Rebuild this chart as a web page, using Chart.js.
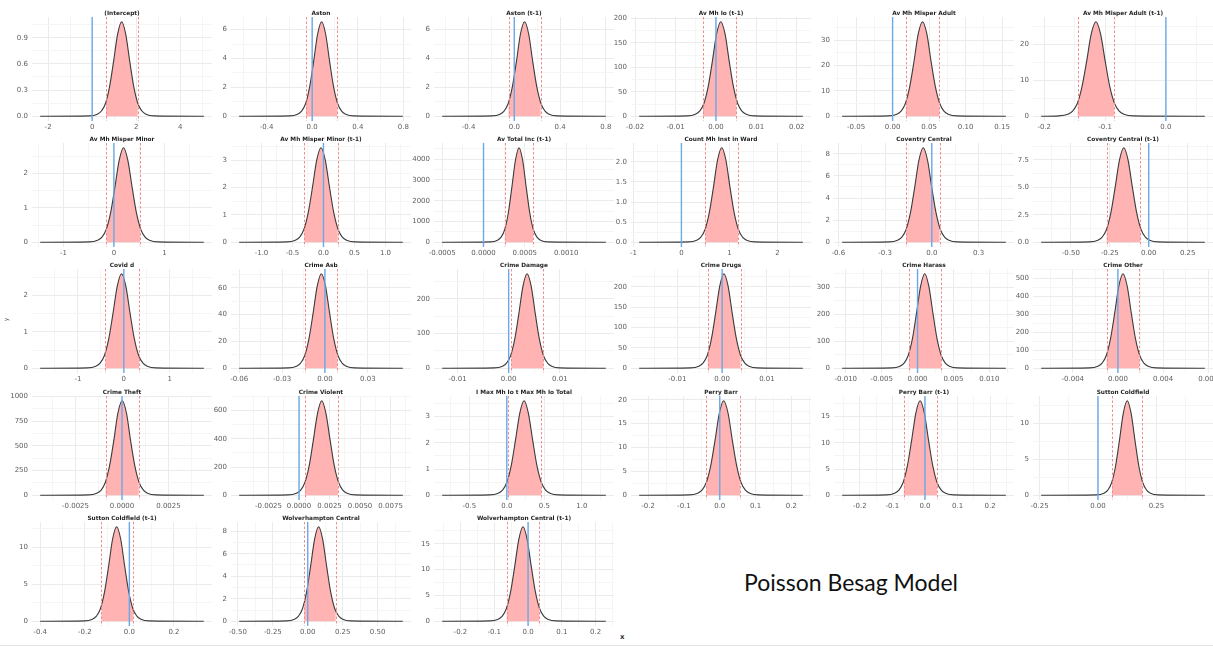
<!DOCTYPE html>
<html><head><meta charset="utf-8">
<script src="https://cdn.jsdelivr.net/npm/chart.js@4.4.1/dist/chart.umd.min.js"></script>
<style>
html,body{margin:0;padding:0;background:#fff;width:1213px;height:646px;overflow:hidden;position:relative;}
canvas{position:absolute;}
.txt{position:absolute;white-space:nowrap;}
</style></head><body>
<div class="txt" id="note" style="left:851px;top:571px;transform:translateX(-50%);font-family:Lato;font-size:23px;line-height:23px;color:#111;">Poisson Besag Model</div>
<div class="txt" style="left:620px;top:633px;font-family:'DejaVu Sans';font-weight:bold;font-size:7px;line-height:8px;color:#333;">x</div>
<div class="txt" style="left:4px;top:316px;font-family:'DejaVu Sans';font-size:6px;line-height:7px;color:#555;transform:rotate(-90deg);">y</div>
<div style="position:absolute;left:0;top:645px;width:1213px;height:1px;background:#e4e4e4;"></div>
<script>
// ---------------- data ----------------
const panelTitles = [
 '(Intercept)','Aston','Aston (t-1)','Av Mh Io (t-1)','Av Mh Misper Adult','Av Mh Misper Adult (t-1)',
 'Av Mh Misper Minor','Av Mh Misper Minor (t-1)','Av Total Inc (t-1)','Count Mh Inst in Ward','Coventry Central','Coventry Central (t-1)',
 'Covid d','Crime Asb','Crime Damage','Crime Drugs','Crime Harass','Crime Other',
 'Crime Theft','Crime Violent','I Max Mh Io t Max Mh Io Total','Perry Barr','Perry Barr (t-1)','Sutton Coldfield',
 'Sutton Coldfield (t-1)','Wolverhampton Central','Wolverhampton Central (t-1)'
];
const xTickLabels = [
 ['-2','0','2','4'],
 ['-0.4','0.0','0.4','0.8'],
 ['-0.4','0.0','0.4','0.8'],
 ['-0.02','-0.01','0.00','0.01','0.02'],
 ['-0.05','0.00','0.05','0.10','0.15'],
 ['-0.2','-0.1','0.0'],
 ['-1','0','1'],
 ['-1.0','-0.5','0.0','0.5','1.0'],
 ['-0.0005','0.0000','0.0005','0.0010'],
 ['-1','0','1','2'],
 ['-0.6','-0.3','0.0','0.3'],
 ['-0.50','-0.25','0.00','0.25'],
 ['-1','0','1'],
 ['-0.06','-0.03','0.00','0.03'],
 ['-0.01','0.00','0.01'],
 ['-0.01','0.00','0.01'],
 ['-0.010','-0.005','0.000','0.005','0.010'],
 ['-0.004','0.000','0.004','0.008'],
 ['-0.0025','0.0000','0.0025'],
 ['-0.0025','0.0000','0.0025','0.0050','0.0075'],
 ['-0.5','0.0','0.5','1.0'],
 ['-0.2','-0.1','0.0','0.1','0.2'],
 ['-0.2','-0.1','0.0','0.1','0.2'],
 ['-0.25','0.00','0.25'],
 ['-0.4','-0.2','0.0','0.2'],
 ['-0.50','-0.25','0.00','0.25','0.50'],
 ['-0.2','-0.1','0.0','0.1','0.2']
];
const yTickLabels = [
 ['0.0','0.3','0.6','0.9'],
 ['0','2','4','6'],
 ['0','2','4','6'],
 ['0','50','100','150','200'],
 ['0','10','20','30'],
 ['0','10','20'],
 ['0','1','2'],
 ['0','1','2','3'],
 ['0','1000','2000','3000','4000'],
 ['0.0','0.5','1.0','1.5','2.0'],
 ['0','2','4','6','8'],
 ['0.0','2.5','5.0','7.5'],
 ['0','1','2'],
 ['0','20','40','60'],
 ['0','100','200'],
 ['0','50','100','150','200'],
 ['0','100','200','300'],
 ['0','100','200','300','400','500'],
 ['0','250','500','750','1000'],
 ['0','200','400','600'],
 ['0','1','2','3'],
 ['0','5','10','15','20'],
 ['0','5','10','15'],
 ['0','5','10'],
 ['0','5','10'],
 ['0','2','4','6','8'],
 ['0','5','10','15']
];
const ciLower = [0.63,-0.055,-0.05,-0.0032,0.018,-0.145,-0.15,-0.31,0.00026,0.5,-0.165,-0.27,-0.40,-0.014,0.0005,-0.0032,-0.0012,-0.001,-0.00088,0.0005,0.01,-0.038,-0.065,0.06,-0.125,-0.025,-0.063];
const ciUpper = [2.07,0.22,0.23,0.005,0.064,-0.085,0.52,0.23,0.0006,1.18,0.05,-0.053,0.33,0.0087,0.0068,0.0041,0.0033,0.0019,0.0009,0.0032,0.46,0.057,0.037,0.19,0.017,0.2,0.033];
const referenceValue = 0;
const densityX = [
 [-2.36,-0.129,0.238,0.422,0.605,0.789,0.973,1.156,1.34,1.524,1.707,1.891,2.075,2.258,2.442,2.809,5.07],
 [-0.64,-0.198,-0.128,-0.093,-0.057,-0.022,0.013,0.048,0.083,0.118,0.153,0.188,0.223,0.258,0.294,0.364,0.795],
 [-0.63,-0.196,-0.124,-0.089,-0.053,-0.017,0.019,0.054,0.09,0.126,0.161,0.197,0.233,0.269,0.304,0.376,0.8],
 [-0.019,-0.00717,-0.00508,-0.00403,-0.00298,-0.00194,-0.00089,0.00015,0.0012,0.00225,0.00329,0.00434,0.00538,0.00643,0.00748,0.00957,0.0215],
 [-0.069,-0.0059,0.0058,0.0117,0.0175,0.0234,0.0293,0.0351,0.041,0.0469,0.0527,0.0586,0.0645,0.0703,0.0762,0.0879,0.155],
 [-0.205,-0.1762,-0.1609,-0.1533,-0.1456,-0.138,-0.1303,-0.1227,-0.115,-0.1074,-0.0997,-0.0921,-0.0844,-0.0768,-0.0691,-0.0538,0.064],
 [-1.46,-0.494,-0.323,-0.237,-0.152,-0.066,0.019,0.105,0.19,0.275,0.361,0.446,0.532,0.617,0.703,0.874,1.78],
 [-1.36,-0.591,-0.453,-0.384,-0.316,-0.247,-0.178,-0.109,-0.04,0.029,0.098,0.167,0.236,0.304,0.373,0.511,1.28],
 [-0.0005,0.000083,0.00017,0.000213,0.000257,0.0003,0.000343,0.000387,0.00043,0.000473,0.000517,0.00056,0.000603,0.000647,0.00069,0.000777,0.00148],
 [-0.88,0.146,0.32,0.406,0.493,0.58,0.667,0.753,0.84,0.927,1.013,1.1,1.187,1.274,1.36,1.534,2.53],
 [-0.575,-0.274,-0.2195,-0.192,-0.1647,-0.1373,-0.1098,-0.0824,-0.055,-0.0276,-0.0002,0.0273,0.0547,0.082,0.1095,0.164,0.475],
 [-0.69,-0.3814,-0.3261,-0.2984,-0.2707,-0.243,-0.2154,-0.1877,-0.16,-0.1323,-0.1046,-0.077,-0.0493,-0.0216,0.0061,0.0614,0.36],
 [-1.82,-0.795,-0.609,-0.516,-0.422,-0.329,-0.236,-0.143,-0.05,0.043,0.136,0.229,0.322,0.416,0.509,0.695,1.74],
 [-0.06,-0.0257,-0.0199,-0.017,-0.0141,-0.0112,-0.0083,-0.0054,-0.0025,0.0004,0.0033,0.0062,0.0091,0.012,0.0149,0.0207,0.0545],
 [-0.013,-0.0028,-0.0012,-0.0004,0.0004,0.0012,0.002,0.0028,0.0036,0.0044,0.0052,0.006,0.0068,0.0076,0.0084,0.01,0.019],
 [-0.0185,-0.00705,-0.00519,-0.00426,-0.00332,-0.00239,-0.00146,-0.00053,0.0004,0.00133,0.00226,0.00319,0.00412,0.00506,0.00599,0.00785,0.018],
 [-0.0105,-0.00359,-0.00244,-0.00187,-0.0013,-0.00072,-0.00015,0.00043,0.001,0.00157,0.00215,0.00272,0.0033,0.00387,0.00444,0.00559,0.0123],
 [-0.0068,-0.00251,-0.00177,-0.0014,-0.00103,-0.00066,-0.00029,0.00008,0.00045,0.00082,0.00119,0.00156,0.00193,0.0023,0.00267,0.00341,0.0077],
 [-0.0044,-0.0018,-0.00135,-0.00112,-0.0009,-0.00067,-0.00044,-0.00022,0.00001,0.00024,0.00046,0.00069,0.00092,0.00115,0.00137,0.00183,0.0044],
 [-0.0049,-0.0009,-0.00021,0.00014,0.00048,0.00083,0.00117,0.00152,0.00186,0.0022,0.00255,0.00289,0.00324,0.00358,0.00393,0.00462,0.0085],
 [-0.861,-0.229,-0.114,-0.057,0.0004,0.058,0.115,0.173,0.23,0.287,0.345,0.402,0.46,0.517,0.574,0.689,1.319],
 [-0.225,-0.0859,-0.0617,-0.0496,-0.0375,-0.0253,-0.0132,-0.0011,0.011,0.0231,0.0352,0.0473,0.0595,0.0716,0.0837,0.1079,0.232],
 [-0.254,-0.1191,-0.0931,-0.08,-0.067,-0.054,-0.041,-0.028,-0.015,-0.002,0.011,0.024,0.037,0.05,0.0631,0.0891,0.248],
 [-0.243,-0.0077,0.0255,0.0421,0.0587,0.0753,0.0918,0.1084,0.125,0.1416,0.1582,0.1747,0.1913,0.2079,0.2245,0.2577,0.457],
 [-0.4,-0.2019,-0.1657,-0.1476,-0.1294,-0.1113,-0.0932,-0.0751,-0.057,-0.0389,-0.0208,-0.0027,0.0154,0.0336,0.0517,0.0879,0.334],
 [-0.49,-0.1516,-0.0942,-0.0655,-0.0368,-0.0081,0.0206,0.0493,0.078,0.1067,0.1354,0.1641,0.1928,0.2215,0.2502,0.3076,0.68],
 [-0.254,-0.113,-0.0885,-0.0762,-0.064,-0.0517,-0.0395,-0.0272,-0.015,-0.0028,0.0095,0.0217,0.034,0.0462,0.0585,0.083,0.23]
];
const densityY = [
 [0,0.004,0.024,0.06,0.146,0.336,0.628,0.942,1.083,0.942,0.628,0.336,0.146,0.06,0.024,0.004,0],
 [0,0.026,0.144,0.36,0.884,2.03,3.8,5.7,6.55,5.7,3.8,2.03,0.884,0.36,0.144,0.026,0],
 [0,0.026,0.144,0.36,0.884,2.03,3.8,5.7,6.55,5.7,3.8,2.03,0.884,0.36,0.144,0.026,0],
 [0,0.77,4.25,10.6,26.1,59.8,112,168,193,168,112,59.8,26.1,10.6,4.25,0.77,0],
 [0,0.15,0.82,2.05,5.04,11.56,21.6,32.5,37.3,32.5,21.6,11.56,5.04,2.05,0.82,0.15,0],
 [0,0.105,0.58,1.45,3.55,8.15,15.25,22.9,26.3,22.9,15.25,8.15,3.55,1.45,0.58,0.105,0],
 [0,0.011,0.061,0.151,0.371,0.853,1.595,2.39,2.75,2.39,1.595,0.853,0.371,0.151,0.061,0.011,0],
 [0,0.014,0.076,0.19,0.466,1.07,2.0,3.0,3.45,3.0,2.0,1.07,0.466,0.19,0.076,0.014,0],
 [0,18,100,250,614,1410,2640,3960,4550,3960,2640,1410,614,250,100,18,0],
 [0,0.009,0.052,0.129,0.317,0.729,1.363,2.045,2.35,2.045,1.363,0.729,0.317,0.129,0.052,0.009,0],
 [0,0.034,0.188,0.47,1.154,2.65,4.96,7.44,8.55,7.44,4.96,2.65,1.154,0.47,0.188,0.034,0],
 [0,0.034,0.189,0.473,1.161,2.67,4.99,7.48,8.6,7.48,4.99,2.67,1.161,0.473,0.189,0.034,0],
 [0,0.01,0.057,0.143,0.351,0.806,1.508,2.262,2.6,2.262,1.508,0.806,0.351,0.143,0.057,0.01,0],
 [0,0.28,1.55,3.88,9.52,21.9,40.9,61.3,70.5,61.3,40.9,21.9,9.52,3.88,1.55,0.28,0],
 [0,1.1,6,15,36.7,84.3,157.8,236.6,272,236.6,157.8,84.3,36.7,15,6,1.1,0],
 [0,0.93,5.1,12.8,31.3,71.9,134.6,201.8,232,201.8,134.6,71.9,31.3,12.8,5.1,0.93,0],
 [0,1.4,7.7,19.3,47.3,108.5,203,304.5,350,304.5,203,108.5,47.3,19.3,7.7,1.4,0],
 [0,2.1,11.6,28.9,70.9,162.8,304.5,456.8,525,456.8,304.5,162.8,70.9,28.9,11.6,2.1,0],
 [0,3.8,21,52.5,128.9,296,554,831,955,831,554,296,128.9,52.5,21,3.8,0],
 [0,2.7,14.7,36.9,90.5,207.7,388.6,582.9,670,582.9,388.6,207.7,90.5,36.9,14.7,2.7,0],
 [0,0.014,0.079,0.198,0.486,1.116,2.088,3.132,3.6,3.132,2.088,1.116,0.486,0.198,0.079,0.014,0],
 [0,0.079,0.436,1.089,2.673,6.14,11.48,17.23,19.8,17.23,11.48,6.14,2.673,1.089,0.436,0.079,0],
 [0,0.072,0.396,0.99,2.43,5.58,10.44,15.66,18,15.66,10.44,5.58,2.43,0.99,0.396,0.072,0],
 [0,0.053,0.29,0.726,1.782,4.09,7.66,11.48,13.2,11.48,7.66,4.09,1.782,0.726,0.29,0.053,0],
 [0,0.051,0.282,0.704,1.728,3.968,7.42,11.14,12.8,11.14,7.42,3.968,1.728,0.704,0.282,0.051,0],
 [0,0.034,0.185,0.462,1.134,2.604,4.872,7.308,8.4,7.308,4.872,2.604,1.134,0.462,0.185,0.034,0],
 [0,0.073,0.403,1.0,2.47,5.67,10.61,15.92,18.3,15.92,10.61,5.67,2.47,1.0,0.403,0.073,0]
];

// ---------------- layout ----------------
const colCentres = [122,321,524,721,924,1123];
const rowTops = [17,143,269,396,522];
const PLOT_W = 180, PLOT_H = 104, AXIS_W = 30, TITLE_H = 11, XAXIS_H = 14, PAD_R = 16;

function tickSet(majors, min, max) {
  const step = majors[1] - majors[0];
  const out = majors.filter(v => v >= min && v <= max);
  for (let k = -1; k < majors.length; k++) {
    const v = majors[0] + (k + 0.5) * step;
    if (v >= min && v <= max) out.push(v);
  }
  return out.sort((a, b) => a - b);
}

function makePanelPlugin(i) {
  return {
    id: 'panel' + i,
    beforeDatasetsDraw(chart) {
      const {ctx, chartArea: a, scales: {x}} = chart;
      const x1 = x.getPixelForValue(ciLower[i]), x2 = x.getPixelForValue(ciUpper[i]);
      ctx.save();
      ctx.beginPath();
      ctx.rect(x1, a.top - 2, x2 - x1, a.bottom - a.top + 4);
      ctx.clip();
    },
    afterDatasetDraw(chart, args) {
      if (args.index === 1) chart.ctx.restore();
    },
    afterDatasetsDraw(chart) {
      const {ctx, chartArea: a, scales: {x}} = chart;
      ctx.save();
      ctx.beginPath(); ctx.rect(a.left, a.top, a.right - a.left, a.bottom - a.top); ctx.clip();
      ctx.strokeStyle = '#f28b8b'; ctx.lineWidth = 1; ctx.setLineDash([2.5, 2]);
      [ciLower[i], ciUpper[i]].forEach(v => {
        const px = Math.round(x.getPixelForValue(v)) + 0.5;
        ctx.beginPath(); ctx.moveTo(px, a.top); ctx.lineTo(px, a.bottom); ctx.stroke();
      });
      ctx.setLineDash([]);
      ctx.strokeStyle = '#6aa8e8'; ctx.lineWidth = 1.4;
      const bx = x.getPixelForValue(referenceValue);
      ctx.beginPath(); ctx.moveTo(bx, a.top); ctx.lineTo(bx, a.bottom); ctx.stroke();
      ctx.restore();
    }
  };
}

panelTitles.forEach((title, i) => {
  const col = i % 6, row = Math.floor(i / 6);
  const plotLeft = colCentres[col] - PLOT_W / 2, plotTop = rowTops[row];
  const W = AXIS_W + PLOT_W + PAD_R, H = TITLE_H + PLOT_H + XAXIS_H;
  const cv = document.createElement('canvas');
  cv.width = W; cv.height = H;
  cv.style.left = (plotLeft - AXIS_W) + 'px'; cv.style.top = (plotTop - TITLE_H) + 'px';
  cv.style.width = W + 'px'; cv.style.height = H + 'px';
  document.body.appendChild(cv);

  const xs = densityX[i], ys = densityY[i];
  const xSpan = xs[xs.length - 1] - xs[0];
  const xMin = xs[0] - 0.05 * xSpan, xMax = xs[xs.length - 1] + 0.05 * xSpan;
  const yPeak = Math.max(...ys);
  const yMin = -0.05 * yPeak, yMax = 1.05 * yPeak;
  const xMaj = xTickLabels[i].map(parseFloat), yMaj = yTickLabels[i].map(parseFloat);
  const xTol = xSpan * 1e-6, yTol = yPeak * 1e-6;
  const xTicks = tickSet(xMaj, xMin, xMax), yTicks = tickSet(yMaj, yMin, yMax);
  const pts = xs.map((x, k) => ({x: x, y: ys[k]}));
  const tickFont = {family: 'DejaVu Sans', size: 7};

  new Chart(cv, {
    type: 'line',
    data: {datasets: [
      {data: pts, borderColor: '#3b3b3b', borderWidth: 1.1, pointRadius: 0, fill: false, cubicInterpolationMode: 'monotone'},
      {data: pts, borderColor: 'rgba(0,0,0,0)', borderWidth: 0, backgroundColor: '#ffb3b3', pointRadius: 0, fill: 'origin', cubicInterpolationMode: 'monotone'}
    ]},
    options: {
      responsive: false, animation: false, devicePixelRatio: 1, events: [],
      layout: {padding: {left: 0, right: PAD_R, top: 0, bottom: 0}},
      plugins: {
        legend: {display: false}, tooltip: {enabled: false},
        title: {display: true, text: title, fullSize: false, color: '#1f1f1f',
          font: {family: 'DejaVu Sans', weight: 'bold', size: 5.8, lineHeight: '8px'},
          padding: {top: 3, bottom: 0}}
      },
      scales: {
        x: {
          type: 'linear', min: xMin, max: xMax,
          afterBuildTicks: s => { s.ticks = xTicks.map(v => ({value: v})); },
          afterFit: s => { s.height = XAXIS_H; },
          border: {display: false},
          grid: {drawTicks: false, lineWidth: 1,
            color: c => (c.tick && xMaj.some(m => Math.abs(m - c.tick.value) < xTol)) ? '#ebebeb' : '#f5f5f5'},
          ticks: {autoSkip: false, maxRotation: 0, minRotation: 0, padding: 2, color: '#5e5e5e', font: tickFont,
            callback: v => { const k = xMaj.findIndex(m => Math.abs(m - v) < xTol); return k >= 0 ? xTickLabels[i][k] : ''; }}
        },
        y: {
          type: 'linear', min: yMin, max: yMax,
          afterBuildTicks: s => { s.ticks = yTicks.map(v => ({value: v})); },
          afterFit: s => { s.width = AXIS_W; },
          border: {display: false},
          grid: {drawTicks: false, lineWidth: 1,
            color: c => (c.tick && yMaj.some(m => Math.abs(m - c.tick.value) < yTol)) ? '#ebebeb' : '#f5f5f5'},
          ticks: {autoSkip: false, padding: 4, color: '#5e5e5e', font: tickFont,
            callback: v => { const k = yMaj.findIndex(m => Math.abs(m - v) < yTol); return k >= 0 ? yTickLabels[i][k] : ''; }}
        }
      }
    },
    plugins: [makePanelPlugin(i)]
  });
});
</script>
</body></html>
